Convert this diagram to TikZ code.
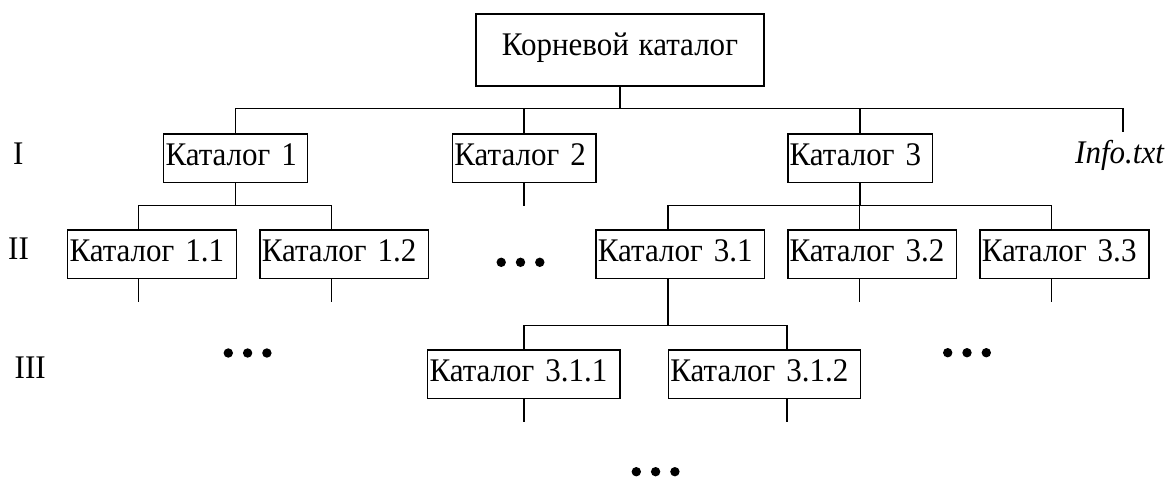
\documentclass[tikz,border=0pt]{standalone}
\usepackage{fontspec}
\setmainfont[FakeStretch=0.94]{Liberation Serif}
\begin{document}
\begin{tikzpicture}[x=1pt,y=-1pt,
  every node/.style={font=\fontsize{33}{39}\selectfont},
  conn/.style={line width=1.6pt},
  dirbox/.style={draw, line width=1.6pt, anchor=north west, inner xsep=2pt, inner ysep=0pt,
     minimum height=48.2pt, text height=22pt, text depth=8pt, align=left},
  rootbox/.style={draw, line width=1.6pt, anchor=north west, inner sep=0pt,
     minimum width=288.3pt, minimum height=71.7pt, text height=22pt, text depth=10.3pt, align=center},
  lvl/.style={anchor=base west, inner sep=0pt},
  dot/.style={fill=black}
]
\useasboundingbox (0,0) rectangle (1172,477);

% boxes
\node[rootbox] (root) at (475,13.3) {Корневой\hspace{2pt} каталог};
\node[dirbox, minimum width=144pt, text width=140pt] (c1) at (162.7,133.3) {Каталог 1};
\node[dirbox, minimum width=143.5pt, text width=139.5pt] (c2) at (451.6,133.3) {Каталог 2};
\node[dirbox, minimum width=144.9pt, text width=140.9pt] (c3) at (786.9,133.3) {Каталог 3};
\node[lvl] (info) at (1075,163.3) {\itshape Info.txt};

\node[dirbox, minimum width=169pt, text width=165pt] (c11) at (66.7,229.3) {Каталог 1.1};
\node[dirbox, minimum width=168.5pt, text width=164.5pt] (c12) at (259,229.3) {Каталог 1.2};
\node[dirbox, minimum width=168.7pt, text width=164.7pt] (c31) at (595.1,229.3) {Каталог 3.1};
\node[dirbox, minimum width=168.7pt, text width=164.7pt] (c32) at (786.9,229.3) {Каталог 3.2};
\node[dirbox, minimum width=169pt, text width=165pt] (c33) at (979,229.3) {Каталог 3.3};

\node[dirbox, minimum width=192.6pt, text width=188.6pt] (c311) at (426.7,349.3) {Каталог 3.1.1};
\node[dirbox, minimum width=192pt, text width=188pt] (c312) at (667.6,349.3) {Каталог 3.1.2};

% level labels
\node[lvl] (lI) at (13,164) {I};
\node[lvl] (lII) at (8,259.5) {II};
\node[lvl] (lIII) at (14.5,378.5) {III};

% helper coordinates
\coordinate (busA) at (0,108.3);
\coordinate (busB) at (0,205.6);
\coordinate (busC) at (0,325.5);
\coordinate (infoend) at (1122.7,131.7);
\coordinate (s11) at (138.5,0);
\coordinate (s12) at (331.4,0);
\coordinate (s31) at (668,0);
\coordinate (s32) at (859.4,0);
\coordinate (s33) at (1051.5,0);
\coordinate (s312) at (786.9,0);
\coordinate (endII) at (0,301.7);
\coordinate (endIII) at (0,421.7);

% level I connectors
\draw[conn] (root.south) -- (root.south |- busA);
\draw[conn] (c1.north) -- (c1.north |- busA) -- (infoend |- busA) -- (infoend);
\draw[conn] (c2.north) -- (c2.north |- busA);
\draw[conn] (c3.north) -- (c3.north |- busA);

% level II connectors
\draw[conn] (c1.south) -- (c1.south |- busB);
\draw[conn] (c11.north -| s11) -- (s11 |- busB) -- (s12 |- busB) -- (c12.north -| s12);
\draw[conn] (c2.south) -- (c2.south |- busB);
\draw[conn] (c3.south) -- (c3.south |- busB);
\draw[conn] (c31.north -| s31) -- (s31 |- busB) -- (s33 |- busB) -- (c33.north -| s33);
\draw[conn] (c32.north -| s32) -- (s32 |- busB);

% stubs below level II
\draw[conn] (c11.south -| s11) -- (s11 |- endII);
\draw[conn] (c12.south -| s12) -- (s12 |- endII);
\draw[conn] (c32.south -| s32) -- (s32 |- endII);
\draw[conn] (c33.south -| s33) -- (s33 |- endII);

% level III connectors
\draw[conn] (c31.south -| s31) -- (s31 |- busC);
\draw[conn] (c311.north) -- (c311.north |- busC) -- (s312 |- busC) -- (c312.north -| s312);
\draw[conn] (c311.south) -- (c311.south |- endIII);
\draw[conn] (c312.south -| s312) -- (s312 |- endIII);

% ellipses
\foreach \cx/\cy in {520.5/262.3, 247.6/353, 967/352.7, 655.6/471.7}{
  \foreach \dx in {-19.3,0,19.3}{
    \fill[dot] (\cx+\dx,\cy) circle (4.7);
  }
}
\end{tikzpicture}
\end{document}
